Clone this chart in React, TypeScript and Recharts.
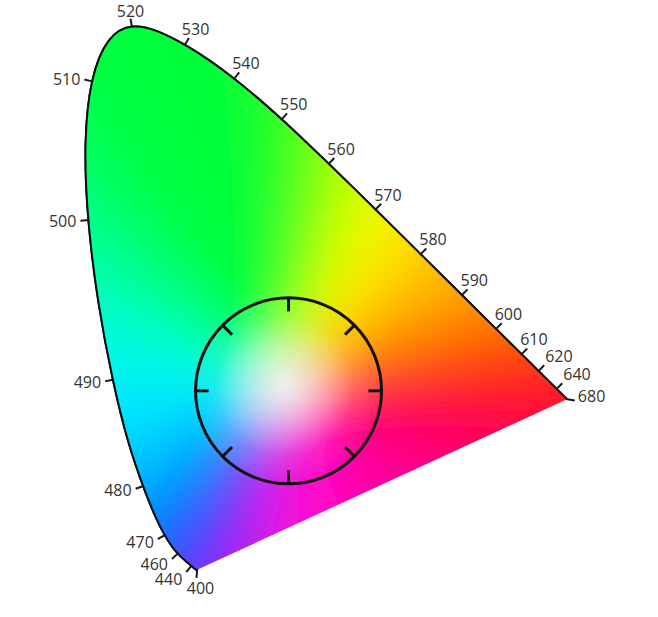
import React from "react";
import { ComposedChart, Line, XAxis, YAxis, ReferenceDot } from "recharts";

// spectral locus (CIE 1931 xy)
const WAVELENGTHS = [400, 410, 420, 430, 440, 445, 450, 455, 460, 465, 470, 475, 480, 485, 490, 495, 500, 505, 510, 515, 520, 525, 530, 535, 540, 545, 550, 555, 560, 565, 570, 575, 580, 585, 590, 595, 600, 605, 610, 615, 620, 625, 630, 635, 640, 650, 660, 670, 680];
const LOCUS_X = [0.1733, 0.1726, 0.1714, 0.1689, 0.1644, 0.1611, 0.1566, 0.151, 0.144, 0.1355, 0.1241, 0.1096, 0.0913, 0.0687, 0.0454, 0.0235, 0.0082, 0.0039, 0.0139, 0.0389, 0.0743, 0.1142, 0.1547, 0.1929, 0.2296, 0.2658, 0.3016, 0.3373, 0.3731, 0.4087, 0.4441, 0.4788, 0.5125, 0.5448, 0.5752, 0.6029, 0.627, 0.6482, 0.6658, 0.6801, 0.6915, 0.7006, 0.7079, 0.714, 0.719, 0.726, 0.73, 0.732, 0.7347];
const LOCUS_Y = [0.0048, 0.0048, 0.0051, 0.0069, 0.0109, 0.0138, 0.0177, 0.0227, 0.0297, 0.0399, 0.0578, 0.0868, 0.1327, 0.2007, 0.295, 0.4127, 0.5384, 0.6548, 0.7502, 0.812, 0.8338, 0.8262, 0.8059, 0.7816, 0.7543, 0.7243, 0.6923, 0.6589, 0.6245, 0.5896, 0.5547, 0.5202, 0.4866, 0.4544, 0.4242, 0.3965, 0.3725, 0.3514, 0.334, 0.3197, 0.3083, 0.2993, 0.292, 0.2859, 0.2809, 0.274, 0.27, 0.268, 0.2653];
const LABELED = [400, 440, 460, 470, 480, 490, 500, 510, 520, 530, 540, 550, 560, 570, 580, 590, 600, 610, 620, 640, 680];

// where the colours fade to white
const WHITE_POINT = { x: 0.305, y: 0.285 };

// the dial drawn over the diagram
const RING_CENTER = { x: 0.312, y: 0.278 };
const RING_RADIUS = 0.1413;
const RING_TICK_LENGTH = 0.02;
const RING_TICK_ANGLES = [0, 45, 90, 135, 180, 225, 270, 315];

const STOP_WAVELENGTHS = [400, 440, 460, 470, 475, 480, 485, 490, 495, 500, 505, 510, 540, 550, 555, 560, 565, 570, 575, 580, 590, 600, 610, 620, 640, 680];
const STOP_COLORS = ["#5a30ff", "#3a3cff", "#1c48ff", "#0064ff", "#0084ff", "#00acff", "#00d4ff", "#00f4ff", "#00ffc0", "#00ff80", "#00ff58", "#00ff40", "#00ff38", "#20ff28", "#50ff18", "#90ff00", "#c8ff00", "#f0ff00", "#ffe800", "#ffd000", "#ffa000", "#ff7000", "#ff4400", "#ff2414", "#ff1418", "#ff1024"];
const PURPLE_STOPS = ["#ff1024", "#ff0060", "#ff00a0", "#ff10e0", "#5a30ff"];

const locus = WAVELENGTHS.map((w, i) => ({ w, x: LOCUS_X[i], y: LOCUS_Y[i] }));
const fillData = [{ w: 0, ...WHITE_POINT }, ...locus];
const rad = (a: number) => (a * Math.PI) / 180;
const ringTicks = RING_TICK_ANGLES.map((a) => [
  { x: RING_CENTER.x + RING_RADIUS * Math.cos(rad(a)), y: RING_CENTER.y + RING_RADIUS * Math.sin(rad(a)) },
  { x: RING_CENTER.x + (RING_RADIUS - RING_TICK_LENGTH) * Math.cos(rad(a)), y: RING_CENTER.y + (RING_RADIUS - RING_TICK_LENGTH) * Math.sin(rad(a)) },
]);

const toRgb = (h: string) => [1, 3, 5].map((i) => parseInt(h.slice(i, i + 2), 16));
const mix = (a: string, b: string, t: number) => {
  const ca = toRgb(a);
  const cb = toRgb(b);
  const c = ca.map((v, i) => Math.round(v + (cb[i] - v) * t));
  return `rgb(${c[0]},${c[1]},${c[2]})`;
};
const spectralColor = (w: number) => {
  for (let i = 0; i < STOP_WAVELENGTHS.length - 1; i++) {
    if (w <= STOP_WAVELENGTHS[i + 1]) {
      const t = (w - STOP_WAVELENGTHS[i]) / (STOP_WAVELENGTHS[i + 1] - STOP_WAVELENGTHS[i]);
      return mix(STOP_COLORS[i], STOP_COLORS[i + 1], Math.max(0, t));
    }
  }
  return STOP_COLORS[STOP_COLORS.length - 1];
};
const purpleColor = (t: number) => {
  const s = t * (PURPLE_STOPS.length - 1);
  const i = Math.min(Math.floor(s), PURPLE_STOPS.length - 2);
  return mix(PURPLE_STOPS[i], PURPLE_STOPS[i + 1], s - i);
};

type Pt = { x: number; y: number; payload?: any };

// same control points as the "natural" curve type
function naturalControls(v: number[]) {
  const n = v.length - 1;
  const a = new Array(n);
  const b = new Array(n);
  const r = new Array(n);
  a[0] = 0; b[0] = 2; r[0] = v[0] + 2 * v[1];
  for (let i = 1; i < n - 1; ++i) { a[i] = 1; b[i] = 4; r[i] = 4 * v[i] + 2 * v[i + 1]; }
  a[n - 1] = 2; b[n - 1] = 7; r[n - 1] = 8 * v[n - 1] + v[n];
  for (let i = 1; i < n; ++i) { const m = a[i] / b[i - 1]; b[i] -= m; r[i] -= m * r[i - 1]; }
  a[n - 1] = r[n - 1] / b[n - 1];
  for (let i = n - 2; i >= 0; --i) a[i] = (r[i] - a[i + 1]) / b[i];
  b[n - 1] = (v[n] + a[n - 1]) / 2;
  for (let i = 0; i < n - 1; ++i) b[i] = 2 * v[i + 1] - a[i + 1];
  return [a, b];
}

function naturalPath(pts: Pt[], close: boolean) {
  const xs = pts.map((p) => p.x);
  const ys = pts.map((p) => p.y);
  const [ax, bx] = naturalControls(xs);
  const [ay, by] = naturalControls(ys);
  let d = `M${xs[0]},${ys[0]}`;
  for (let i = 0; i < xs.length - 1; i++) d += `C${ax[i]},${ay[i]} ${bx[i]},${by[i]} ${xs[i + 1]},${ys[i + 1]}`;
  return close ? d + "Z" : d;
}

function edgeNormal(a: Pt, b: Pt) {
  const dx = b.x - a.x;
  const dy = b.y - a.y;
  const len = Math.hypot(dx, dy) || 1;
  return { x: dy / len, y: -dx / len };
}

function outwardNormal(pts: Pt[], i: number) {
  const p = pts[i];
  const n = pts.length;
  const far = (step: number) => {
    let j = i;
    for (let k = 0; k < n; k++) {
      j = (j + step + n) % n;
      if (Math.hypot(pts[j].x - p.x, pts[j].y - p.y) >= 6) return pts[j];
    }
    return p;
  };
  const e1 = edgeNormal(far(-1), p);
  const e2 = edgeNormal(p, far(1));
  const sx = e1.x + e2.x;
  const sy = e1.y + e2.y;
  const len = Math.hypot(sx, sy) || 1;
  return { x: sx / len, y: sy / len };
}

function SpectrumFill(props: any) {
  const { index, points } = props;
  if (index !== 0 || !points) return <g key={`fill-${index}`} />;
  const c: Pt = points[0];
  const rim: Pt[] = points.slice(1);
  const ext = (p: Pt, k = 1.8) => ({ x: c.x + (p.x - c.x) * k, y: c.y + (p.y - c.y) * k });
  const wedge = (key: string, p0: Pt, p1: Pt, col: string) => {
    const a = ext(p0);
    const b = ext(p1);
    return <polygon key={key} points={`${c.x},${c.y} ${a.x},${a.y} ${b.x},${b.y}`} fill={col} stroke={col} strokeWidth={1.5} />;
  };
  const wedges = [];
  for (let i = 0; i < rim.length - 1; i++) {
    const w = (rim[i].payload.w + rim[i + 1].payload.w) / 2;
    wedges.push(wedge(`s${i}`, rim[i], rim[i + 1], spectralColor(w)));
  }
  const first = rim[0];
  const last = rim[rim.length - 1];
  const steps = 16;
  for (let j = 0; j < steps; j++) {
    const t0 = j / steps;
    const t1 = (j + 1) / steps;
    const p0 = { x: last.x + (first.x - last.x) * t0, y: last.y + (first.y - last.y) * t0 };
    const p1 = { x: last.x + (first.x - last.x) * t1, y: last.y + (first.y - last.y) * t1 };
    wedges.push(wedge(`p${j}`, p0, p1, purpleColor((t0 + t1) / 2)));
  }
  return (
    <g key="spectrum-fill">
      <defs>
        <clipPath id="locus-clip">
          <path d={naturalPath(rim, true)} />
        </clipPath>
        <filter id="soft-blend" filterUnits="userSpaceOnUse" x={-300} y={-300} width={1300} height={1300}>
          <feGaussianBlur stdDeviation={26} />
        </filter>
        <radialGradient id="white-glow" gradientUnits="userSpaceOnUse" cx={c.x} cy={c.y} r={100}>
          <stop offset="0" stopColor="#ffffff" stopOpacity={0.78} />
          <stop offset="0.3" stopColor="#ffffff" stopOpacity={0.5} />
          <stop offset="0.7" stopColor="#ffffff" stopOpacity={0.1} />
          <stop offset="1" stopColor="#ffffff" stopOpacity={0} />
        </radialGradient>
      </defs>
      <g clipPath="url(#locus-clip)">
        <g filter="url(#soft-blend)">{wedges}</g>
        <circle cx={c.x} cy={c.y} r={100} fill="url(#white-glow)" />
      </g>
    </g>
  );
}

function WavelengthTick(props: any) {
  const { index, points, payload } = props;
  if (!points) return <g key={`t-${index}`} />;
  const outline = index === 0 ? <path d={naturalPath(points, false)} fill="none" stroke="#111" strokeWidth={2} /> : null;
  if (!LABELED.includes(payload.w)) return <g key={`t-${index}`}>{outline}</g>;
  const p = points[index];
  const n = outwardNormal(points, index);
  const end = { x: p.x + n.x * 8, y: p.y + n.y * 8 };
  const k = LABELED.indexOf(payload.w);
  const prev = k > 0 ? points.find((q: Pt) => q.payload.w === LABELED[k - 1]) : null;
  const crowded = prev ? Math.hypot(prev.x - p.x, prev.y - p.y) < 30 : false;
  let anchor: "start" | "middle" | "end" = "middle";
  let tx = end.x;
  let ty = end.y;
  if (n.y < -0.35 && n.x > 0.3) {
    anchor = "start";
    tx = crowded ? end.x + 1 : end.x - 7;
    ty = end.y - 3;
  } else if (n.y < -0.85) {
    ty = end.y - 2;
  } else if (n.x > 0.5) {
    anchor = "start";
    tx = end.x + 3;
    ty = end.y + 1;
  } else if (n.x < -0.3) {
    anchor = "end";
    tx = end.x - 4;
    ty = end.y + 6 + 12 * Math.max(0, n.y) * Math.max(0, n.y);
  } else {
    tx = end.x + 4;
    ty = end.y + 16;
  }
  return (
    <g key={`t-${index}`}>
      {outline}
      <line x1={p.x - n.x} y1={p.y - n.y} x2={end.x} y2={end.y} stroke="#1a1a1a" strokeWidth={2} />
      <text x={tx} y={ty} textAnchor={anchor} fontSize={16} fontFamily="'Open Sans', sans-serif" fill="#333">
        {payload.w}
      </text>
    </g>
  );
}

function RingTick(props: any) {
  const { index, points } = props;
  if (index !== 1 || !points) return <g key={`r-${index}`} />;
  return <line key={`r-${index}`} x1={points[0].x} y1={points[0].y} x2={points[1].x} y2={points[1].y} stroke="#111" strokeWidth={3} />;
}

export default function App() {
  return (
    <div style={{ position: "absolute", left: 0, top: 0 }}>
      <ComposedChart width={658} height={617} margin={{ top: 16, right: 48, bottom: 44, left: 83 }}>
        <XAxis type="number" dataKey="x" domain={[0, 0.8]} tickCount={5} hide />
        <YAxis type="number" dataKey="y" domain={[0, 0.85]} tickCount={18} hide />
        <Line data={fillData} dataKey="y" stroke="none" dot={SpectrumFill} activeDot={false} isAnimationActive={false} />
        <Line data={locus} dataKey="y" type="natural" stroke="#111" strokeWidth={2} dot={WavelengthTick} activeDot={false} isAnimationActive={false} />
        {ringTicks.map((seg, i) => (
          <Line key={`ring-${i}`} data={seg} dataKey="y" stroke="none" dot={RingTick} activeDot={false} isAnimationActive={false} />
        ))}
        <ReferenceDot x={RING_CENTER.x} y={RING_CENTER.y} r={93} fill="none" stroke="#111" strokeWidth={3} />
      </ComposedChart>
    </div>
  );
}
